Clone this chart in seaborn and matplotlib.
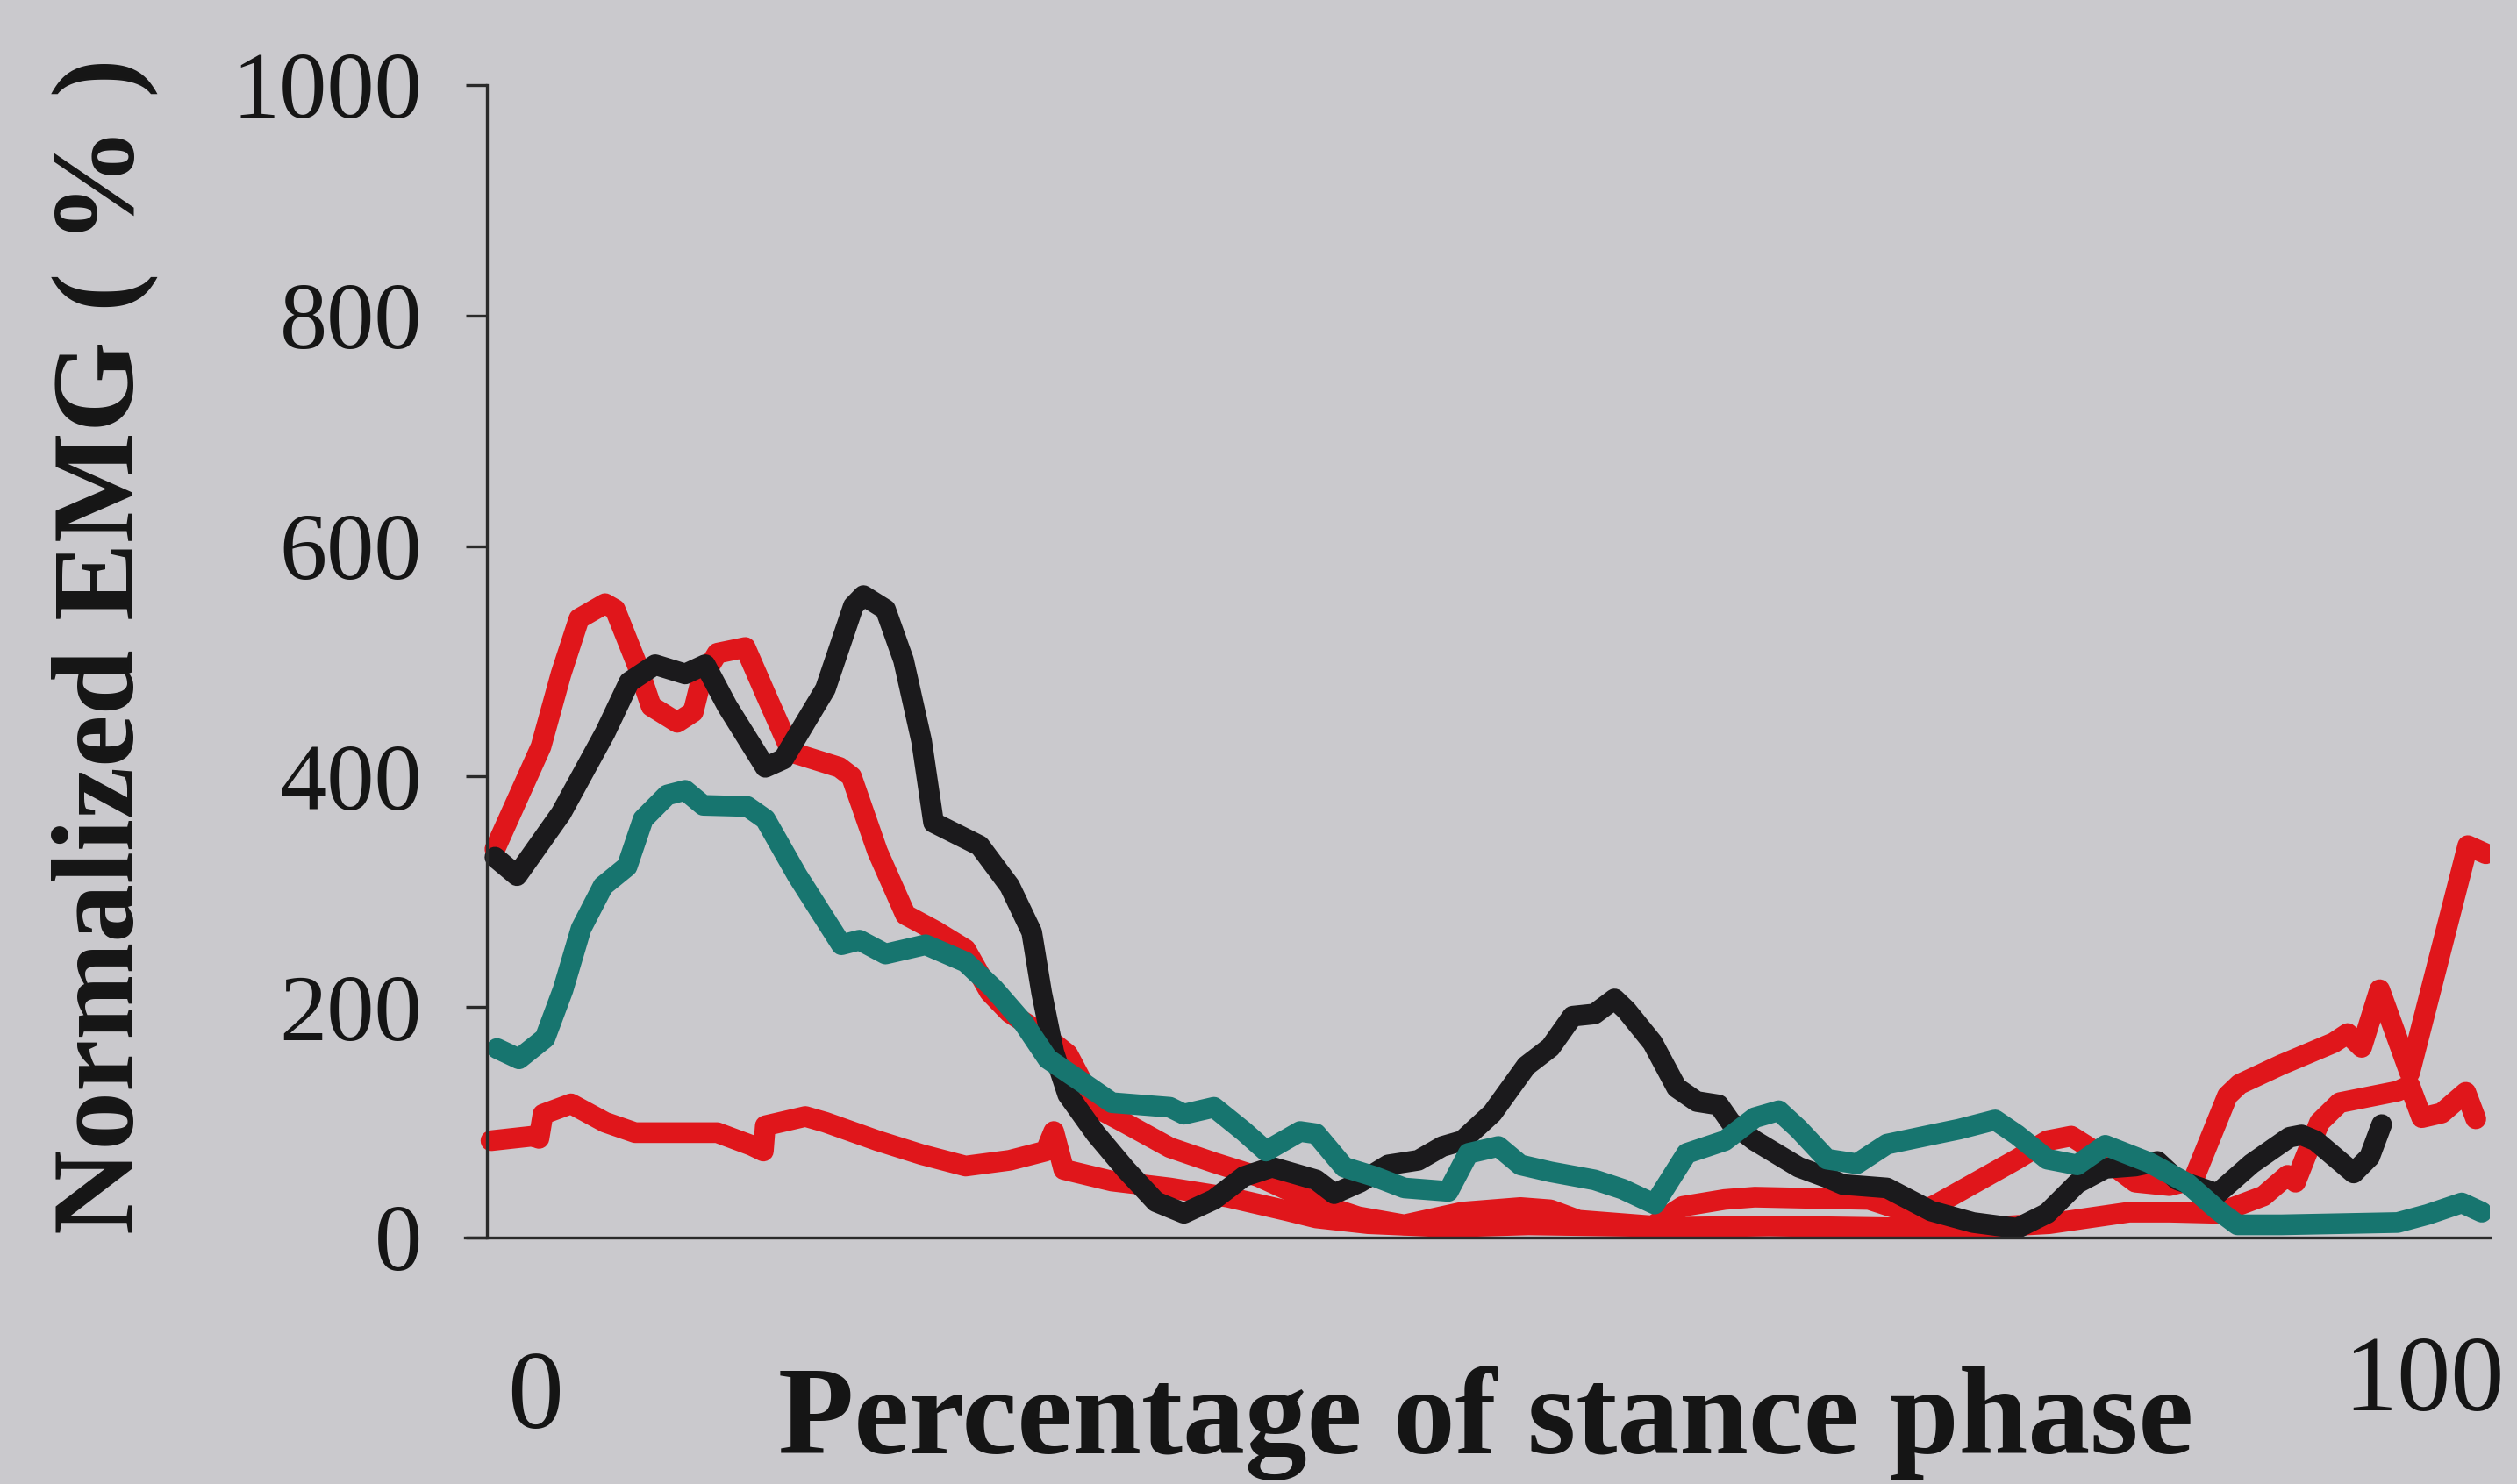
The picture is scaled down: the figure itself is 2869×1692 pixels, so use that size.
import matplotlib
matplotlib.use("Agg")
import matplotlib.pyplot as plt
import seaborn as sns

# values (x = % of stance phase, y = normalized EMG %)
red_hi_x = [0.4, 2.7, 3.7, 4.6, 5.9, 6.4, 7.5, 8.2, 9.5, 10.3, 10.7, 11.5, 12.9, 13.9, 15.2,
            17.6, 18.2, 19.5, 20.9, 22.4, 23.9, 25.1, 26.1, 27.7, 29.0, 30.4, 31.9, 34.1, 36.3,
            38.5, 41.4, 43.5, 45.8, 48.7, 51.6, 53.1, 54.5, 58.2, 59.7, 61.8, 63.3, 66.0, 69.0,
            71.3, 72.4, 76.4, 77.9, 79.1, 80.1, 82.3, 84.0, 85.2, 86.9, 87.5, 89.6, 92.2, 92.9,
            93.6, 94.5, 96.0, 98.9, 99.8]
red_hi_y = [337, 426, 489, 537, 550, 545, 497, 461, 447, 456, 484, 507, 512, 472, 421,
            408, 400, 335, 280, 266, 250, 213, 195, 177, 159, 113, 99, 78, 65,
            53, 30, 18, 11, 22, 26, 24, 15, 10, 27, 33, 35, 34, 33,
            20, 29, 68, 84, 88, 77, 48, 45, 50, 123, 133, 150, 169, 177,
            165, 215, 143, 340, 333]

red_lo_x = [0.2, 2.3, 2.6, 2.8, 4.2, 5.9, 7.4, 11.5, 13.2, 13.8, 13.9, 15.9, 16.9, 19.5, 21.7,
            23.9, 26.1, 27.9, 28.3, 28.8, 31.2, 34.1, 37.0, 40.0, 41.4, 44.0, 48.0, 52.0, 56.0,
            60.0, 64.0, 68.0, 72.0, 75.0, 78.0, 80.0, 82.0, 84.0, 86.4, 88.7, 89.9, 90.3, 90.8,
            91.5, 92.5, 95.4, 96.0, 96.6, 97.6, 98.8, 99.3]
red_lo_y = [84, 88, 86, 107, 116, 100, 91, 91, 80, 75, 97, 105, 100, 84, 72,
            62, 67, 75, 92, 59, 49, 43, 35, 23, 17, 12, 9, 11, 10,
            9, 10, 9, 8, 9, 12, 17, 22, 22, 21, 36, 54, 48, 70,
            100, 117, 127, 132, 104, 108, 126, 103]

black_x = [0.4, 1.5, 3.7, 5.9, 7.1, 8.4, 9.9, 10.9, 12.0, 13.9, 14.8, 16.9, 18.3, 18.8, 19.9,
           20.8, 21.7, 22.3, 24.6, 26.1, 27.2, 27.7, 28.3, 29.0, 30.4, 31.9, 33.4, 34.8, 36.3,
           37.8, 39.2, 41.4, 42.3, 43.6, 45.0, 46.5, 47.7, 48.7, 50.2, 51.9, 53.1, 54.2, 55.3,
           56.3, 56.9, 58.2, 59.4, 60.4, 61.5, 62.1, 63.3, 65.5, 66.9, 67.7, 69.9, 72.1, 74.2,
           76.4, 77.9, 79.4, 80.8, 82.3, 83.4, 84.4, 86.4, 88.1, 90.0, 90.6, 91.3, 93.2, 94.0,
           94.6]
black_y = [330, 314, 368, 438, 482, 497, 489, 497, 461, 408, 415, 476, 548, 557, 545,
           501, 431, 360, 340, 305, 265, 212, 161, 124, 90, 59, 31, 21, 33,
           53, 61, 50, 38, 48, 63, 67, 79, 84, 108, 149, 165, 192, 194,
           207, 197, 169, 130, 118, 115, 100, 84, 61, 52, 46, 43, 23, 13,
           8, 21, 47, 60, 62, 66, 50, 38, 64, 87, 89, 84, 56, 70,
           98]

teal_x = [0.5, 1.6, 2.9, 3.8, 4.7, 5.8, 7.0, 7.8, 9.0, 9.9, 10.8, 13.0, 13.9, 15.5, 17.7,
          18.6, 19.9, 21.9, 23.9, 25.3, 26.8, 28.0, 29.7, 31.2, 34.1, 34.8, 36.3, 37.8, 38.9,
          40.6, 41.4, 42.8, 44.3, 45.8, 48.0, 49.0, 50.5, 51.6, 53.1, 55.3, 56.7, 58.3, 59.9,
          61.8, 63.3, 64.5, 65.5, 66.9, 68.4, 69.9, 72.1, 73.5, 75.3, 76.4, 77.9, 79.4, 80.8,
          83.0, 84.9, 86.4, 87.4, 89.6, 95.4, 96.9, 98.6, 99.6]
teal_y = [164, 155, 173, 215, 268, 305, 322, 363, 384, 388, 375, 374, 363, 314, 254,
          258, 246, 254, 239, 216, 186, 155, 135, 117, 113, 107, 113, 92, 75,
          92, 90, 61, 53, 43, 40, 73, 79, 63, 57, 50, 42, 29, 73,
          84, 104, 110, 94, 68, 64, 81, 89, 94, 102, 89, 68, 63, 80,
          65, 47, 24, 11, 11, 13, 20, 30, 22]

y_ticks = [0, 200, 400, 600, 800, 1000]
x_end_labels = ["0", "100"]

bg = "#cac9cd"
sns.set_theme(style="ticks")
plt.rcParams["font.family"] = ["Liberation Serif", "DejaVu Serif"]

fig = plt.figure(figsize=(14.345, 8.46), dpi=200, facecolor=bg)
ax = fig.add_axes([0.1847, 0.1661, 0.8045, 0.7766], facecolor=bg)

# reds underneath, then black, teal on top
for xs, ys, col in [(red_lo_x, red_lo_y, "#e0161b"),
                    (red_hi_x, red_hi_y, "#e0161b"),
                    (black_x, black_y, "#1b1a1c"),
                    (teal_x, teal_y, "#17756f")]:
    sns.lineplot(x=xs, y=ys, ax=ax, color=col, linewidth=8.5,
                 estimator=None, sort=False)

ax.set_xlim(-1.1, 100)
ax.set_ylim(0, 1000)
ax.spines["top"].set_visible(False)
ax.spines["right"].set_visible(False)
ax.spines["left"].set_position(("data", 0))
for s in ["left", "bottom"]:
    ax.spines[s].set_color("#2a2a2a")
    ax.spines[s].set_linewidth(1.2)

ax.set_yticks(y_ticks)
ax.set_yticklabels([str(t) for t in y_ticks])
ax.tick_params(axis="y", direction="out", length=8.5, width=1.2, color="#2a2a2a",
               pad=18, labelsize=39, labelcolor="#151515")
ax.set_xticks([])

# the 0 / 100 end labels sit below the axis, not on tick marks
ax.text(2.4, -0.165, x_end_labels[0], transform=ax.get_xaxis_transform(),
        ha="center", va="baseline", fontsize=46, color="#151515")
ax.text(96.7, -0.150, x_end_labels[1], transform=ax.get_xaxis_transform(),
        ha="center", va="baseline", fontsize=44, color="#151515")

ax.set_xlabel("Percentage of stance phase", fontsize=51, fontweight="bold",
              color="#151515", va="baseline")
ax.xaxis.set_label_coords(0.504, -0.187)
ax.set_ylabel("Normalized EMG ( % )", fontsize=48, fontweight="bold",
              color="#151515", va="center")
ax.yaxis.set_label_coords(-0.178, 0.513)

plt.savefig("out.png", dpi=200, facecolor=bg)
